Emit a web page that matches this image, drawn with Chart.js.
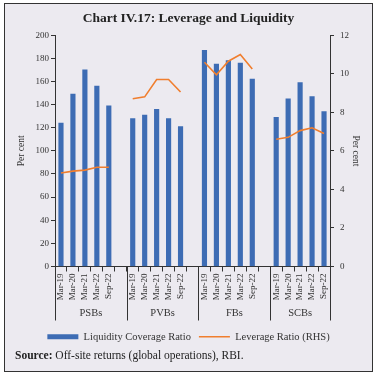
<!DOCTYPE html>
<html>
<head>
<meta charset="utf-8">
<script src="https://cdn.jsdelivr.net/npm/chart.js@4"></script>
<style>
  html, body { margin: 0; padding: 0; background: #fff; }
  #wrap { width: 377px; height: 377px; }
</style>
</head>
<body>
<div id="wrap"><canvas id="leverage"></canvas></div>
<script>
const periods = ['Mar-19', 'Mar-20', 'Mar-21', 'Mar-22', 'Sep-22'];
const groups = ['PSBs', 'PVBs', 'FBs', 'SCBs'];
// one empty slot after each bank group except the last
const categories = [...periods, '', ...periods, '', ...periods, '', ...periods];
const liquidityCoverage = [124, 149, 170, 156, 139, null, 128, 131, 136, 128, 121, null, 187, 175, 178, 176, 162, null, 129, 145, 159, 147, 134];
const leverageRatio = [4.85, 4.95, 5.0, 5.15, 5.15, null, 8.7, 8.8, 9.7, 9.7, 9.05, null, 10.6, 9.95, 10.65, 11.0, 10.25, null, 6.6, 6.7, 7.05, 7.2, 6.9];
const leftMax = 200, leftStep = 20;
const rightMax = 12, rightStep = 2;

const serif = "'Liberation Serif', 'DejaVu Serif', serif";
const ink = '#333';
Chart.defaults.font.family = serif;
Chart.defaults.color = ink;

const frame = {
  id: 'frame',
  beforeDraw(chart) {
    const ctx = chart.ctx;
    ctx.save();
    ctx.fillStyle = '#fff';
    ctx.fillRect(0, 0, chart.width, chart.height);
    ctx.fillStyle = '#ECEAF0';
    ctx.fillRect(4.5, 3.5, 368, 368);
    ctx.strokeStyle = ink;
    ctx.lineWidth = 1;
    ctx.strokeRect(4.5, 3.5, 368, 368);
    ctx.restore();
  },
  afterDraw(chart) {
    const ctx = chart.ctx;
    const x = chart.scales.x;
    const area = chart.chartArea;
    const edges = [area.left];
    for (let g = 1; g < groups.length; g++) edges.push(x.getPixelForValue(g * 6 - 0.5));
    edges.push(area.right);
    ctx.save();
    ctx.strokeStyle = ink;
    ctx.lineWidth = 1;
    edges.forEach(e => {
      const px = Math.round(e) + 0.5;
      ctx.beginPath();
      ctx.moveTo(px, area.bottom);
      ctx.lineTo(px, x.bottom - 3);
      ctx.stroke();
    });
    ctx.fillStyle = ink;
    ctx.font = '10.5px ' + serif;
    ctx.textAlign = 'center';
    ctx.textBaseline = 'middle';
    groups.forEach((g, i) => ctx.fillText(g, (edges[i] + edges[i + 1]) / 2, x.bottom - 10));

    ctx.textAlign = 'left';
    ctx.fillStyle = '#222';
    ctx.font = 'bold 11.5px ' + serif;
    ctx.fillText('Source:', 15, 356);
    const w = ctx.measureText('Source: ').width;
    ctx.font = '11.5px ' + serif;
    ctx.fillText('Off-site returns (global operations), RBI.', 15 + w, 356);
    ctx.restore();
  }
};

new Chart(document.getElementById('leverage'), {
  data: {
    labels: categories,
    datasets: [
      {
        type: 'bar',
        label: 'Liquidity Coverage Ratio',
        data: liquidityCoverage,
        backgroundColor: '#3D6CB4',
        borderWidth: 0,
        barThickness: 4.5,
        pointStyle: 'rect',
        yAxisID: 'y',
        order: 1
      },
      {
        type: 'line',
        label: 'Leverage Ratio (RHS)',
        data: leverageRatio,
        borderColor: '#F07E2E',
        backgroundColor: '#F07E2E',
        borderWidth: 1.6,
        pointRadius: 0,
        pointStyle: 'line',
        spanGaps: false,
        tension: 0,
        yAxisID: 'y2',
        order: 0
      }
    ]
  },
  options: {
    responsive: true,
    maintainAspectRatio: false,
    animation: false,
    layout: { padding: { top: 0, left: 0, right: 0, bottom: 25 } },
    plugins: {
      title: {
        display: true,
        text: 'Chart IV.17: Leverage and Liquidity',
        font: { size: 13.5, weight: 'bold' },
        color: '#222',
        padding: { top: 10, bottom: 9 }
      },
      legend: {
        position: 'bottom',
        labels: {
          usePointStyle: true,
          pointStyleWidth: 31,
          boxHeight: 5,
          padding: 8,
          font: { size: 10.5 },
          sort: (a, b) => a.datasetIndex - b.datasetIndex
        }
      },
      tooltip: { enabled: false }
    },
    scales: {
      x: {
        offset: true,
        grid: { offset: true, drawOnChartArea: false, tickLength: 5, color: ink },
        border: { color: ink },
        ticks: { minRotation: 90, maxRotation: 90, autoSkip: false, padding: 2, font: { size: 9 }, color: ink },
        afterFit(scale) { scale.height = 57; }
      },
      y: {
        position: 'left',
        min: 0,
        max: leftMax,
        grid: { drawOnChartArea: false, tickLength: 4, color: ink },
        border: { color: ink },
        ticks: { stepSize: leftStep, padding: 2, font: { size: 9 }, color: ink },
        title: { display: true, text: 'Per cent', font: { size: 9.5 }, color: ink, padding: { top: 16 } },
        afterFit(scale) { scale.width = 55; }
      },
      y2: {
        position: 'right',
        min: 0,
        max: rightMax,
        grid: { drawOnChartArea: false, tickLength: 4, color: ink },
        border: { color: ink },
        ticks: { stepSize: rightStep, padding: 6, font: { size: 9 }, color: ink },
        title: { display: true, text: 'Per cent', font: { size: 9.5 }, color: ink, padding: { top: 16 } },
        afterFit(scale) { scale.width = 47; }
      }
    }
  },
  plugins: [frame]
});
</script>
</body>
</html>
